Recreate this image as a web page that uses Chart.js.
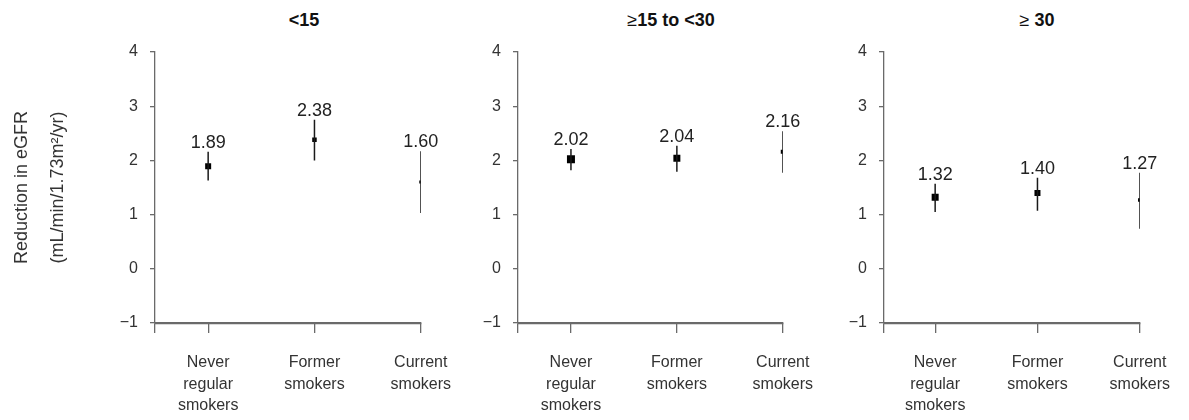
<!DOCTYPE html>
<html>
<head>
<meta charset="utf-8">
<script src="https://cdn.jsdelivr.net/npm/chart.js@4.4.1/dist/chart.umd.min.js"></script>
<style>
html, body { margin: 0; padding: 0; background: #fff; }
#wrap { position: relative; width: 1189px; height: 420px; overflow: hidden; font-family: "Liberation Sans", Arial, sans-serif; }
.panel { position: absolute; top: 0; height: 420px; }
.title { position: absolute; top: 10px; font-size: 18px; font-weight: bold; color: #111; transform: translateX(-50%); white-space: nowrap; }
.title .op { font-weight: normal; }
</style>
</head>
<body>
<div id="wrap">
  <div class="title" style="left:304px">&lt;15</div>
  <div class="title" style="left:671px"><span class="op">&ge;</span>15 to &lt;30</div>
  <div class="title" style="left:1037px"><span class="op">&ge;</span> 30</div>
  <div class="panel" style="left:0px;width:470px"><canvas id="p1"></canvas></div>
  <div class="panel" style="left:440px;width:392px"><canvas id="p2"></canvas></div>
  <div class="panel" style="left:810px;width:379px"><canvas id="p3"></canvas></div>
</div>
<script>
// categories and y ticks shared by all three panels
const categories = [['Never', 'regular', 'smokers'], ['Former', 'smokers'], ['Current', 'smokers']];
const yTicks = [-1, 0, 1, 2, 3, 4];
const yTitle = ['Reduction in eGFR', '(mL/min/1.73m\u00B2/yr)'];

// <15
const estLt15 = [1.89, 2.38, 1.60];
const lowLt15 = [1.63, 2.00, 1.03];
const highLt15 = [2.16, 2.75, 2.17];

// >=15 to <30
const est15to30 = [2.02, 2.04, 2.16];
const low15to30 = [1.82, 1.79, 1.77];
const high15to30 = [2.21, 2.27, 2.54];

// >=30
const estGe30 = [1.32, 1.40, 1.27];
const lowGe30 = [1.05, 1.07, 0.74];
const highGe30 = [1.57, 1.68, 1.77];

// marker side in px (drawn larger for bigger groups)
const sidesLt15 = [6, 4.5, 3];
const sides15to30 = [8, 7, 4];
const sidesGe30 = [7, 6, 3.5];

const FONT = '"Liberation Sans", Arial, Helvetica, sans-serif';
const axisGrey = '#6a6a6a';
const textGrey = '#333';

// draws the estimate above each error bar
const valueLabels = {
    id: 'valueLabels',
    afterDatasetsDraw(chart, args, opts) {
        const ctx = chart.ctx;
        const x = chart.scales.x, y = chart.scales.y;
        ctx.save();
        ctx.font = '18px ' + FONT;
        ctx.fillStyle = '#222';
        ctx.textAlign = 'center';
        ctx.textBaseline = 'alphabetic';
        opts.est.forEach((v, i) => {
            ctx.fillText(v.toFixed(2), x.getPixelForValue(i + 1), y.getPixelForValue(opts.high[i]) - 4);
        });
        ctx.restore();
    }
};

// horizontal axis line along the bottom of the plot area
const baseLine = {
    id: 'baseLine',
    afterDraw(chart) {
        const ctx = chart.ctx;
        const x = chart.scales.x, y = chart.scales.y;
        const py = Math.round(y.getPixelForValue(y.min)) + 0.5;
        ctx.save();
        ctx.strokeStyle = axisGrey;
        ctx.lineWidth = 1.3;
        ctx.beginPath();
        ctx.moveTo(x.getPixelForValue(x.min), py);
        ctx.lineTo(x.getPixelForValue(x.max) + 0.6, py);
        ctx.stroke();
        ctx.restore();
    }
};

function makePanel(id, est, low, high, sides, axisWidth, padRight, showTitle) {
    const datasets = est.map((v, i) => ({
        type: 'scatter',
        showLine: true,
        borderColor: '#1a1a1a',
        borderWidth: 1.5,
        pointRadius: 0,
        data: [{ x: i + 1, y: low[i] }, { x: i + 1, y: high[i] }]
    }));
    datasets.push({
        type: 'scatter',
        data: est.map((v, i) => ({ x: i + 1, y: v })),
        pointStyle: 'rect',
        pointRadius: sides.map(s => s / Math.SQRT2),
        backgroundColor: '#000',
        borderWidth: 0
    });

    return new Chart(document.getElementById(id), {
        type: 'scatter',
        data: { datasets: datasets },
        plugins: [valueLabels, baseLine],
        options: {
            responsive: true,
            maintainAspectRatio: false,
            animation: false,
            events: [],
            layout: { padding: { top: 52, right: padRight, bottom: 0, left: 0 } },
            plugins: {
                legend: { display: false },
                tooltip: { enabled: false },
                valueLabels: { est: est, high: high }
            },
            scales: {
                x: {
                    type: 'linear',
                    min: 0.5,
                    max: 3,
                    afterBuildTicks: s => { s.ticks = [0.5, 1, 2, 3].map(v => ({ value: v })); },
                    afterFit: s => { s.height = 97; },
                    ticks: {
                        autoSkip: false,
                        maxRotation: 0,
                        padding: 19,
                        color: textGrey,
                        font: { family: FONT, size: 16, lineHeight: 1.34 },
                        callback: v => (v === 0.5 ? '' : categories[v - 1])
                    },
                    grid: { drawOnChartArea: false, drawTicks: true, tickLength: 10, color: axisGrey, lineWidth: 1.3 },
                    border: { display: true, color: axisGrey, width: 1.3 }
                },
                y: {
                    min: -1,
                    max: 4,
                    afterBuildTicks: s => { s.ticks = yTicks.map(v => ({ value: v })); },
                    afterFit: s => { s.width = axisWidth; },
                    ticks: {
                        padding: 12,
                        color: textGrey,
                        font: { family: FONT, size: 16 },
                        callback: v => (v < 0 ? '\u2212' + Math.abs(v) : String(v))
                    },
                    grid: { drawOnChartArea: false, drawTicks: true, tickLength: 5, color: axisGrey, lineWidth: 1.3 },
                    border: { display: true, color: axisGrey, width: 1.3 },
                    title: {
                        display: showTitle,
                        text: yTitle,
                        color: textGrey,
                        padding: { top: 4, bottom: 0 },
                        font: { family: FONT, size: 18, lineHeight: 2 }
                    }
                }
            }
        }
    });
}

makePanel('p1', estLt15, lowLt15, highLt15, sidesLt15, 155, 44, true);
makePanel('p2', est15to30, low15to30, high15to30, sides15to30, 78, 40, false);
makePanel('p3', estGe30, lowGe30, highGe30, sidesGe30, 74, 32, false);
</script>
</body>
</html>
